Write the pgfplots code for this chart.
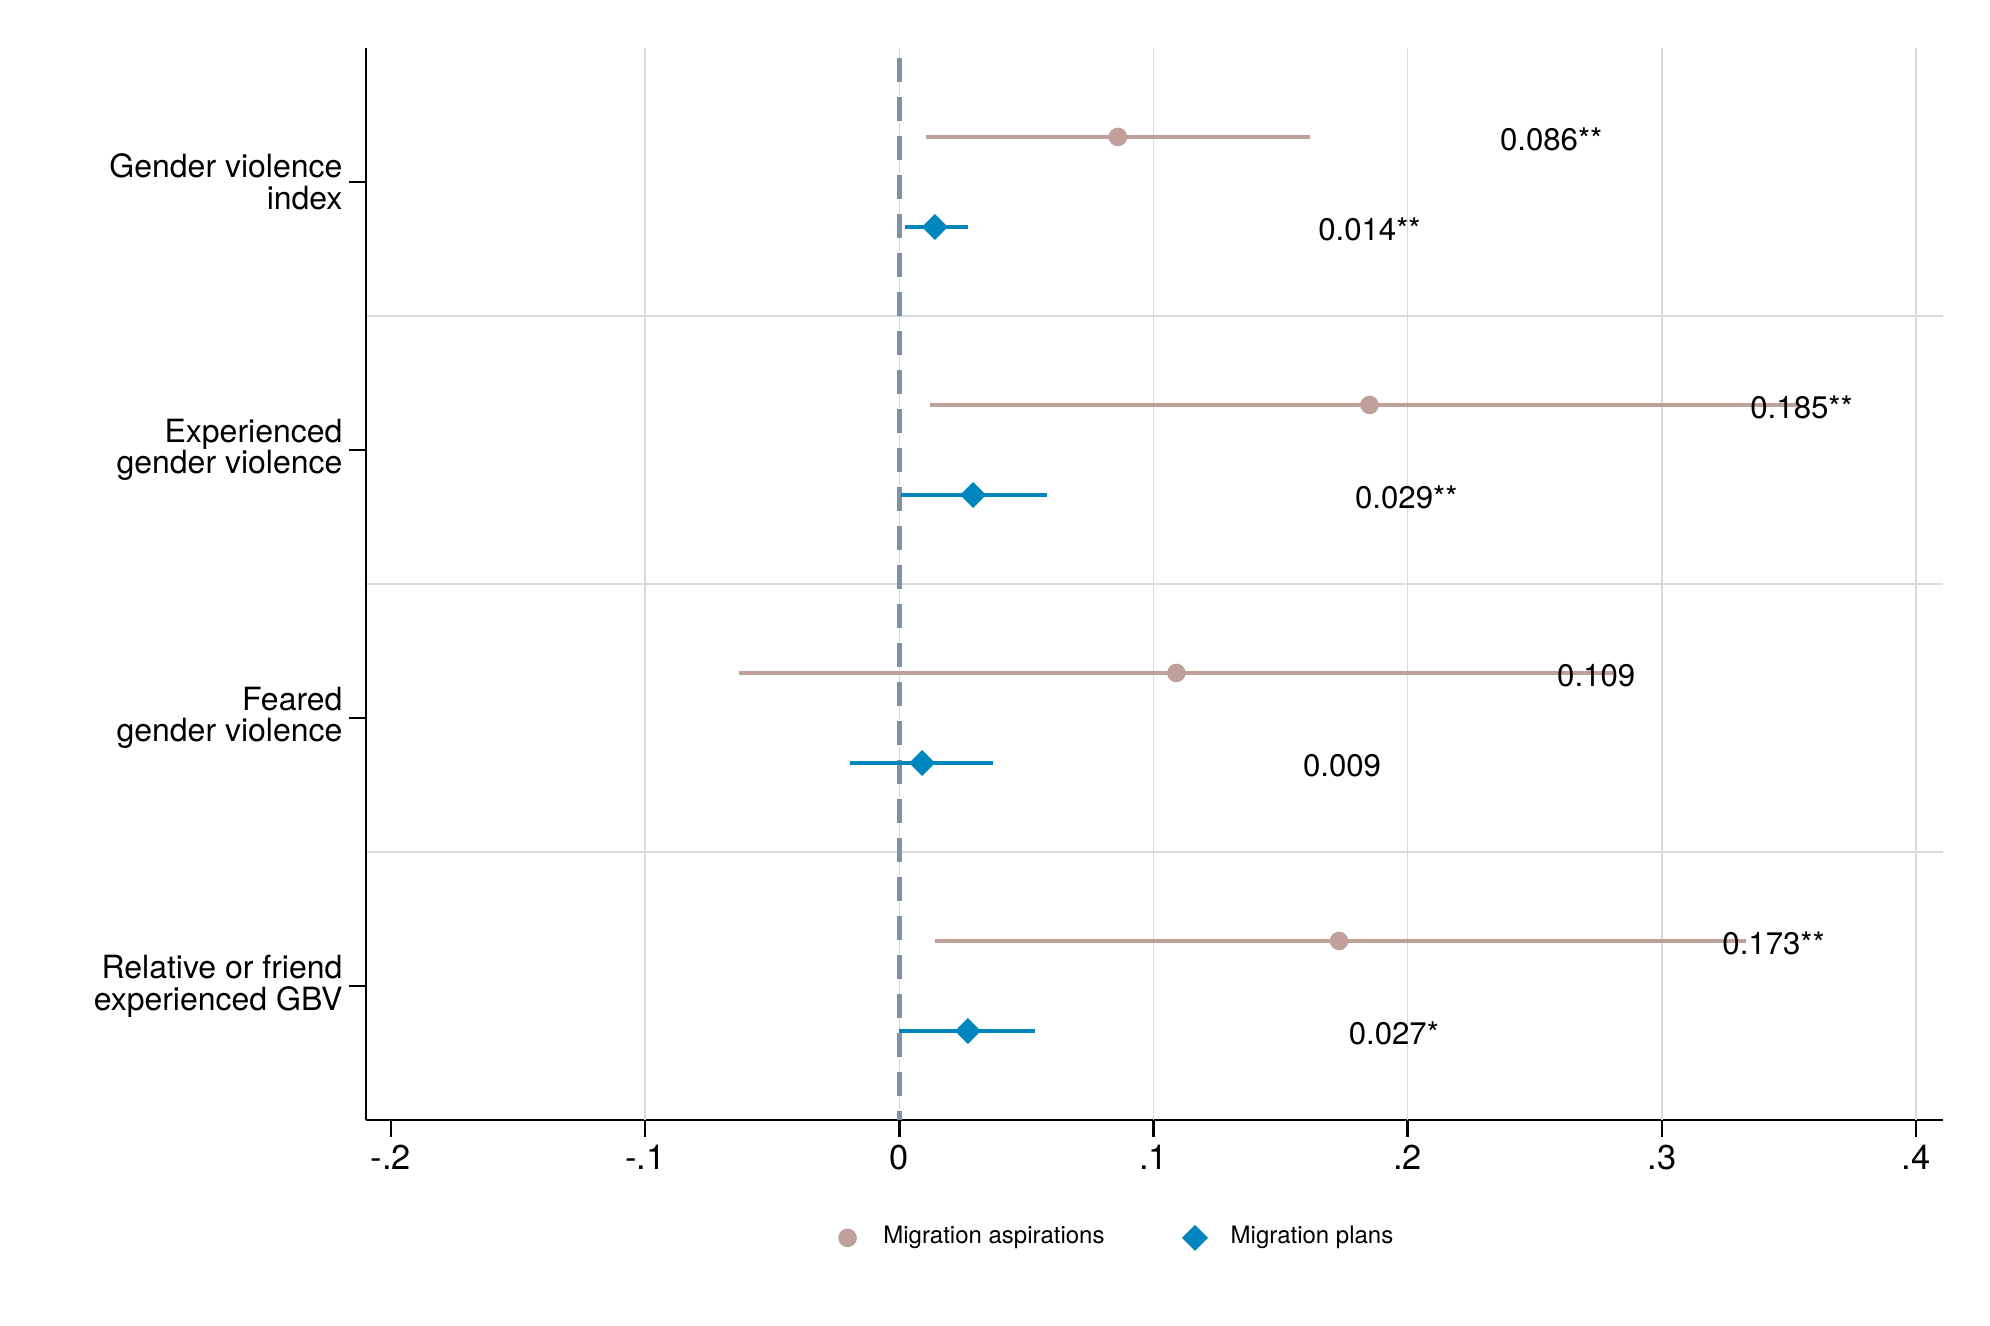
\documentclass[border=0pt]{standalone}
\usepackage{pgfplots}
\usepackage{pgfplotstable}
\pgfplotsset{compat=1.18}
\usepackage{fontspec}
\setmainfont{TeX Gyre Heros}
\definecolor{asp}{RGB}{192,160,154}
\definecolor{plan}{RGB}{0,134,190}
\definecolor{zline}{RGB}{125,147,171}
\definecolor{gridc}{RGB}{218,218,218}

% Migration aspirations: estimate, position, CI plus/minus
\pgfplotstableread{
x y ep em
0.086 4.168 0.0754 0.0754
0.185 3.168 0.1685 0.1730
0.109 2.168 0.1717 0.1720
0.173 1.168 0.1600 0.1590
}\asptable
% Migration plans
\pgfplotstableread{
x y ep em
0.014 3.832 0.0130 0.0118
0.029 2.832 0.0290 0.0285
0.009 1.832 0.0280 0.0285
0.027 0.832 0.0265 0.0270
}\plantable

\begin{document}
\begin{tikzpicture}
\path[use as bounding box] (-91.5pt,-51.5pt) rectangle (406pt,280pt);
\begin{axis}[
  at={(0,0)}, anchor=south west,
  scale only axis, width=394.25pt, height=268pt,
  xmin=-0.2098, xmax=0.4106, ymin=0.5, ymax=4.5,
  clip=false,
  axis x line*=bottom, axis y line*=left,
  axis line style={line width=0.7pt, black},
  xtick={-0.2,-0.1,0,0.1,0.2,0.3,0.4},
  xticklabels={-.2,-.1,0,.1,.2,.3,.4},
  extra x ticks={-0.1,0,0.1,0.2,0.3,0.4},
  extra x tick labels={},
  extra x tick style={grid=major, tick style={draw=none}},
  ytick={1,2,3,4},
  yticklabels={{Relative or friend\\experienced GBV},{Feared\\gender violence},{Experienced\\gender violence},{Gender violence\\index}},
  minor ytick={1.5,2.5,3.5},
  yminorgrids=true,
  minor y tick style={draw=none},
  tick align=outside,
  major tick length=4.25pt,
  tick style={line width=0.6pt, black},
  grid style={line width=0.4pt, gridc},
  minor grid style={line width=0.4pt, gridc},
  yticklabel style={align=right, font=\fontsize{8.0}{7.9}\selectfont, xshift=1.9pt},
  xticklabel style={font=\fontsize{8.6}{10}\selectfont, yshift=1.5pt},
  legend image code/.code={%
    \path (-4pt,0pt) (8.75pt,0pt);
    \draw[#1] plot coordinates {(0pt,0pt)};},
  legend style={draw=none, fill=none, inner sep=0pt, at={(0.2942,-0.110)}, anchor=west,
    legend columns=2, font=\fontsize{6.0}{7}\selectfont,
    nodes={inner sep=0pt},
    /tikz/every even column/.append style={column sep=18.4pt}},
]
\addplot[zline, line width=1.1pt, dash pattern=on 6pt off 3.75pt, dash phase=7.25pt, forget plot]
  coordinates {(0,4.5) (0,0.5)};
\addplot[only marks, mark=*, mark size=2.125pt, color=asp, mark options={fill=asp, draw=asp},
  error bars/.cd, x dir=both, x explicit, error mark=none,
  error bar style={line width=0.8pt, asp}]
  table[x=x, y=y, x error plus=ep, x error minus=em]{\asptable};
\addlegendentry{Migration aspirations}
\addplot[only marks, mark=square*, mark size=2.1pt, color=plan, mark options={rotate=45, fill=plan, draw=plan},
  error bars/.cd, x dir=both, x explicit, error mark=none,
  error bar style={line width=0.8pt, plan}]
  table[x=x, y=y, x error plus=ep, x error minus=em]{\plantable};
\addlegendentry{Migration plans}

\tikzset{vlab/.style={anchor=west, inner sep=0pt, font=\fontsize{7.8}{9}\selectfont, yshift=-0.6pt}}
\node[vlab] at (axis cs:0.236,4.168) {0.086**};
\node[vlab] at (axis cs:0.1645,3.832) {0.014**};
\node[vlab] at (axis cs:0.3345,3.168) {0.185**};
\node[vlab] at (axis cs:0.179,2.832) {0.029**};
\node[vlab] at (axis cs:0.2585,2.168) {0.109};
\node[vlab] at (axis cs:0.1585,1.832) {0.009};
\node[vlab] at (axis cs:0.3235,1.168) {0.173**};
\node[vlab] at (axis cs:0.1765,0.832) {0.027*};
\end{axis}
\end{tikzpicture}
\end{document}
